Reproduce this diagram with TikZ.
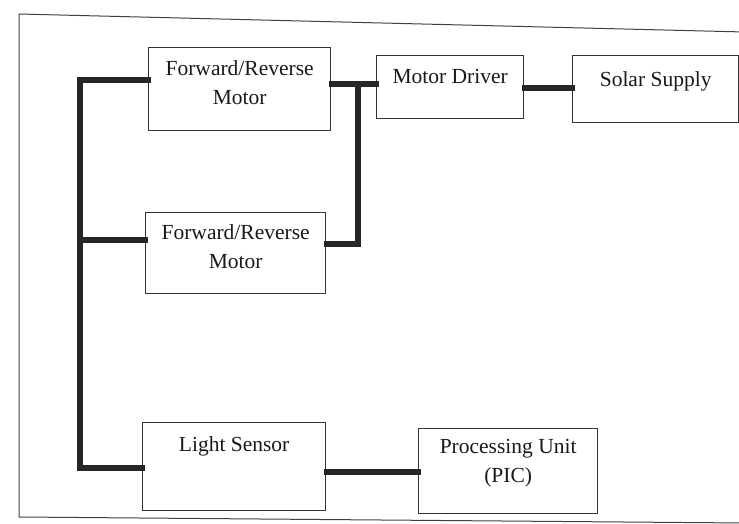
\documentclass[tikz,border=0pt]{standalone}
\usepackage{fontspec}
\setmainfont{Liberation Serif}
\usetikzlibrary{calc}
\begin{document}
\begin{tikzpicture}[x=1pt,y=-1pt,
  box/.style={draw=black!80, line width=1.3pt, anchor=north west, inner sep=0pt},
  lbl/.style={font=\fontsize{21.5}{29}\selectfont, text=black!90, align=center, anchor=north, inner sep=0pt},
  bus/.style={draw=black!85, line width=5.5pt, line cap=rect},
  frame/.style={draw=black!75, line width=1pt}]
\useasboundingbox (0,0) rectangle (739,523);
% outer frame
\coordinate (ftl) at (19,14);
\coordinate (ftr) at (745,32);
\coordinate (fbl) at (19,517);
\coordinate (fbr) at (745,523);
\draw[frame] (ftr) -- (ftl) -- (fbl) -- (fbr);
% boxes
\node[box, minimum width=182, minimum height=83] (m1) at (148,47) {};
\node[box, minimum width=147, minimum height=63] (md) at (376,55) {};
\node[box, minimum width=166, minimum height=67] (ss) at (572,55) {};
\node[box, minimum width=180, minimum height=81] (m2) at (145,212) {};
\node[box, minimum width=183, minimum height=88] (ls) at (142,422) {};
\node[box, minimum width=179, minimum height=85] (pu) at (418,428) {};
% labels
\node[lbl] (t1) at ($(m1.north)+(0,13)$) {Forward/Reverse\\Motor};
\node[lbl] (t2) at ($(md.north)+(0,14)$) {Motor Driver};
\node[lbl] (t3) at ($(ss.north)+(0,16)$) {Solar Supply};
\node[lbl] (t4) at ($(m2.north)+(0,12)$) {Forward/Reverse\\Motor};
\node[lbl] (t5) at ($(ls.north)+(0,14)$) {Light Sensor};
\node[lbl] (t6) at ($(pu.north)+(0,11)$) {Processing Unit\\(PIC)};
% connectors
\coordinate (bt) at (80,80);
\coordinate (bb) at (80,468);
\coordinate (jt) at (358,84);
\coordinate (jb) at (358,244);
\draw[bus] (m1.west |- bt) -- (bt) -- (bb) -- (ls.west |- bb);
\draw[bus] (80,240) -- (m2.west |- 0,240);
\draw[bus] (m1.east |- jt) -- (md.west |- jt);
\draw[bus] (jt) -- (jb) -- (m2.east |- jb);
\draw[bus] (md.east |- 0,88) -- (ss.west |- 0,88);
\draw[bus] (ls.east |- 0,472) -- (pu.west |- 0,472);
\end{tikzpicture}
\end{document}
